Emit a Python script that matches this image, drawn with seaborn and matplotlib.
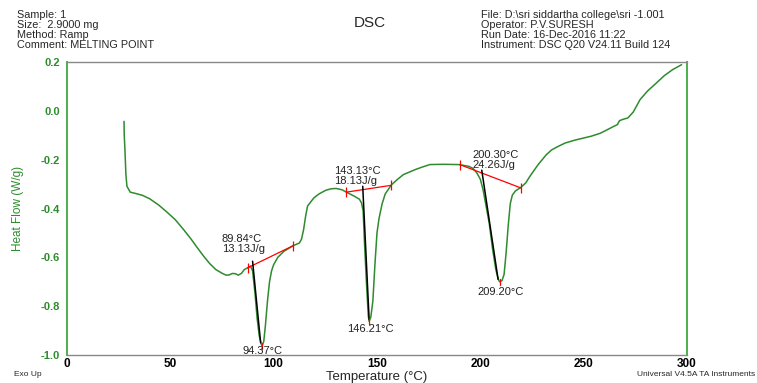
import seaborn as sns
import matplotlib.pyplot as plt
import pandas as pd
from matplotlib.ticker import MultipleLocator

# heat flow curve
temperature = [27.6, 27.7, 28.0, 28.5, 29.0, 30.6, 33.0, 36.5, 40.0, 44.4, 48.0, 52.3, 56.0,
               60.2, 63.0, 66.1, 69.0, 72.0, 75.0, 77.0, 78.5, 80.0, 81.5, 82.9, 84.5, 85.8,
               87.4, 88.8, 89.8, 91.0, 92.0, 93.0, 94.0, 94.4, 95.2, 96.0, 97.0, 98.0, 99.0,
               100.0, 102.0, 105.0, 109.5, 112.5, 113.5, 114.5, 115.5, 116.4, 119.4, 122.0,
               125.3, 128.0, 130.3, 133.0, 135.2, 139.1, 141.5, 142.5, 143.3, 144.0, 145.0,
               145.8, 146.2, 147.0, 148.0, 149.0, 150.0, 151.0, 152.5, 154.0, 157.0, 160.0,
               162.8, 168.7, 172.0, 175.6, 182.0, 189.5, 194.4, 196.5, 198.3, 200.0, 201.3,
               203.0, 204.3, 206.0, 207.5, 208.7, 209.3, 210.5, 211.5, 212.5, 213.5, 214.5,
               215.5, 217.0, 219.7, 222.0, 224.0, 228.0, 231.9, 234.5, 237.8, 241.0, 245.7,
               253.6, 258.0, 261.5, 264.0, 266.4, 266.8, 267.4, 269.0, 271.4, 274.0, 277.3,
               281.0, 285.2, 289.0, 293.1, 297.4]
heat_flow = [-0.043, -0.10, -0.152, -0.26, -0.309, -0.333, -0.338, -0.346, -0.360, -0.386,
             -0.412, -0.445, -0.482, -0.527, -0.560, -0.595, -0.625, -0.650, -0.665, -0.673,
             -0.672, -0.666, -0.667, -0.673, -0.665, -0.650, -0.643, -0.636, -0.655, -0.750,
             -0.850, -0.920, -0.955, -0.962, -0.945, -0.880, -0.780, -0.700, -0.655, -0.630,
             -0.600, -0.575, -0.552, -0.541, -0.525, -0.486, -0.430, -0.390, -0.357, -0.340,
             -0.325, -0.319, -0.318, -0.323, -0.333, -0.350, -0.362, -0.377, -0.410, -0.550,
             -0.720, -0.840, -0.862, -0.845, -0.780, -0.630, -0.500, -0.440, -0.380, -0.340,
             -0.303, -0.280, -0.261, -0.240, -0.230, -0.220, -0.219, -0.220, -0.227, -0.236,
             -0.254, -0.280, -0.322, -0.400, -0.460, -0.570, -0.650, -0.690, -0.700, -0.695,
             -0.670, -0.580, -0.470, -0.380, -0.345, -0.328, -0.313, -0.295, -0.268, -0.220,
             -0.180, -0.160, -0.145, -0.132, -0.120, -0.104, -0.092, -0.077, -0.066, -0.056,
             -0.048, -0.040, -0.035, -0.029, -0.005, 0.046, 0.082, 0.114, 0.144, 0.169, 0.189]

# integration baselines (red) and onset tangents (black)
baseline_t = [[87.4, 109.5], [135.2, 156.9], [190.0, 219.7]]
baseline_hf = [[-0.643, -0.552], [-0.333, -0.305], [-0.220, -0.316]]
tangent_t = [[89.8, 93.7], [143.1, 146.2], [200.7, 208.6]]
tangent_hf = [[-0.616, -0.950], [-0.309, -0.855], [-0.243, -0.690]]
peak_t = [94.4, 146.2, 209.3]
peak_hf = [-0.962, -0.862, -0.700]

onset_labels = ["89.84°C\n13.13J/g", "143.13°C\n18.13J/g", "200.30°C\n24.26J/g"]
onset_pos = [(75.0, -0.545), (129.2, -0.268), (196.0, -0.203)]
peak_labels = ["94.37°C", "146.21°C", "209.20°C"]
peak_label_pos = [(94.7, -0.985), (147.0, -0.895), (209.6, -0.742)]

sns.set_style("white")
plt.rcParams['font.family'] = ['Liberation Sans', 'DejaVu Sans']

green = "#2e8b2e"
df = pd.DataFrame({"Temperature": temperature, "Heat Flow": heat_flow})

fig = plt.figure(figsize=(7.57, 3.83), dpi=100)
ax = fig.add_axes([0.0885, 0.0731, 0.819, 0.765])

sns.lineplot(data=df, x="Temperature", y="Heat Flow", color=green, linewidth=1.1,
             sort=False, ax=ax)

for i in range(3):
    ax.plot(baseline_t[i], baseline_hf[i], color="red", linewidth=0.9)
    ax.plot(baseline_t[i], baseline_hf[i], color="red", linestyle="none",
            marker="|", markersize=7, markeredgewidth=0.9)
    ax.plot(tangent_t[i], tangent_hf[i], color="black", linewidth=1.1)
    ax.plot([peak_t[i], peak_t[i]], [peak_hf[i] - 0.012, peak_hf[i] + 0.012],
            color="red", linewidth=0.9)
    ax.text(onset_pos[i][0], onset_pos[i][1], onset_labels[i], fontsize=8,
            color="#222222", ha="left", va="center", linespacing=1.0)
    ax.text(peak_label_pos[i][0], peak_label_pos[i][1], peak_labels[i], fontsize=8,
            color="#222222", ha="center", va="center")

ax.set_xlim(0, 300)
ax.set_ylim(-1.0, 0.2)
ax.xaxis.set_major_locator(MultipleLocator(50))
ax.xaxis.set_minor_locator(MultipleLocator(12.5))
ax.yaxis.set_minor_locator(MultipleLocator(0.05))
ax.set_yticks([-1.0, -0.8, -0.6, -0.4, -0.2, 0.0, 0.2])
ax.set_yticklabels(["-1.0", "-0.8", "-0.6", "-0.4", "-0.2", "0.0", "0.2"])
ax.tick_params(axis="y", which="major", length=4, direction="out", colors=green,
               labelsize=8, pad=1)
ax.tick_params(axis="y", which="minor", length=3, direction="in", colors=green)
ax.tick_params(axis="x", which="major", length=4, direction="inout", labelsize=8.5,
               pad=0, colors="black")
ax.tick_params(axis="x", which="minor", length=3, direction="in")
for lab in ax.get_yticklabels() + ax.get_xticklabels():
    lab.set_fontweight("bold")

for side in ["left", "right"]:
    ax.spines[side].set_color("#4caf4c")
    ax.spines[side].set_linewidth(1.4)
for side in ["top", "bottom"]:
    ax.spines[side].set_color("#888888")
    ax.spines[side].set_linewidth(1.0)

ax.set_xlabel("Temperature (°C)", fontsize=9.5, labelpad=1)
ax.set_ylabel("Heat Flow (W/g)", fontsize=8.5, color=green, labelpad=12)

fig.text(0.022, 0.975, "Sample: 1\nSize:  2.9000 mg\nMethod: Ramp\nComment: MELTING POINT",
         fontsize=7.8, va="top", ha="left", linespacing=1.0)
fig.text(0.489, 0.94, "DSC", fontsize=11, va="center", ha="center")
fig.text(0.636, 0.975, "File: D:\\sri siddartha college\\sri -1.001\nOperator: P.V.SURESH\n"
         "Run Date: 16-Dec-2016 11:22\nInstrument: DSC Q20 V24.11 Build 124",
         fontsize=7.8, va="top", ha="left", linespacing=1.0)
fig.text(0.018, 0.022, "Exo Up", fontsize=6, va="center", ha="left")
fig.text(0.998, 0.022, "Universal V4.5A TA Instruments", fontsize=6, va="center", ha="right")

fig.savefig("out.png", dpi=100)
